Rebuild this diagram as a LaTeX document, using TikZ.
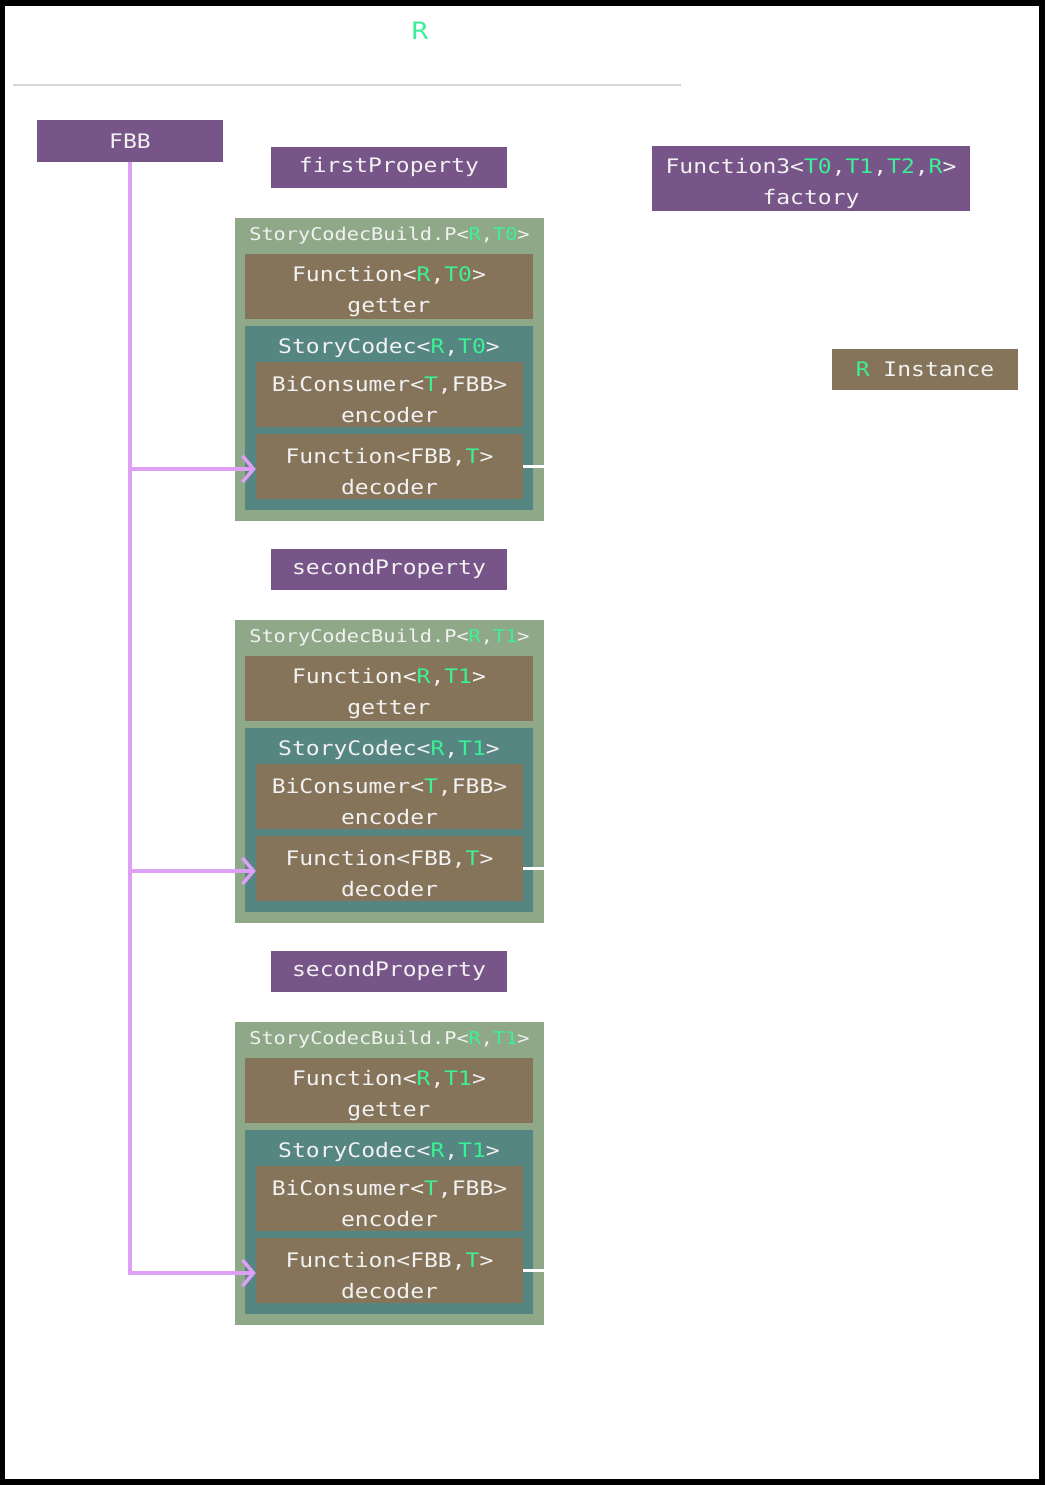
\documentclass[tikz,border=0pt]{standalone}
\usepackage{fontspec}
\usetikzlibrary{arrows.meta}
\newfontfamily\mono{DejaVu Sans Mono}[FakeStretch=1.15]
\definecolor{pur}{RGB}{119,85,136}
\definecolor{brn}{RGB}{134,116,90}
\definecolor{sage}{RGB}{143,169,136}
\definecolor{tealbox}{RGB}{86,134,130}
\definecolor{mint}{RGB}{60,240,150}
\definecolor{pinkline}{RGB}{221,160,245}
\definecolor{txt}{RGB}{242,242,242}
\definecolor{lgray}{RGB}{214,214,214}
\newcommand\grn[1]{\textcolor{mint}{#1}}
\tikzset{
  box/.style={rectangle, inner sep=0pt, text=txt, align=center,
    font=\mono\fontsize{20}{31}\selectfont},
  twoline/.style={text height=56pt},
  purbox/.style={box, fill=pur},
  brnbox/.style={box, fill=brn},
  sagebox/.style={rectangle, inner sep=0pt, fill=sage},
  tealb/.style={rectangle, inner sep=0pt, fill=tealbox},
  grptitle/.style={box, font=\mono\fontsize{17.6}{22}\selectfont},
  feed/.style={draw=pinkline, line width=3.5pt, -{Straight Barb[length=11pt,width=26pt]}},
  stub/.style={draw=white, line width=3pt}
}
\newcommand\propgroup[3]{%
  \begin{scope}[yshift=-#2pt]
  \node[sagebox, minimum width=309pt, minimum height=303pt] (#1) at (389.5,369.5) {};
  \node[grptitle] (#1t) at (389.5,236) {StoryCodecBuild.P<\grn{R},\grn{#3}>};
  \node[brnbox, twoline, minimum width=288pt, minimum height=65pt] (#1get) at (389,286.5) {Function<\grn{R},\grn{#3}>\\getter};
  \node[tealb, minimum width=288pt, minimum height=184pt] (#1codec) at (389,418) {};
  \node[box] (#1ct) at (389,348) {StoryCodec<\grn{R},\grn{#3}>};
  \node[brnbox, twoline, minimum width=267pt, minimum height=65pt] (#1enc) at (389.5,394.5) {BiConsumer<\grn{T},FBB>\\encoder};
  \node[brnbox, twoline, minimum width=267pt, minimum height=65pt] (#1dec) at (389.5,466.5) {Function<FBB,\grn{T}>\\decoder};
  \coordinate (#1in) at ([yshift=-2.5pt]#1dec.west);
  \draw[stub] (#1dec.east) -- (#1dec.east -| #1.east);
  \end{scope}}
\begin{document}
\begin{tikzpicture}[x=1pt,y=-1pt]
\fill[black] (0,0) rectangle (1045,1485);
\fill[white] (5,6) rectangle (1039,1479);
\useasboundingbox (0,0) rectangle (1045,1485);
\node[box, text=mint, font=\mono\fontsize{24}{28}\selectfont] (title) at (420,31) {R};
\draw[lgray, line width=2pt] (13,85) -- (681,85);
\node[purbox, minimum width=186pt, minimum height=41pt] (FBB) at (130,141) {FBB};
\node[purbox, minimum width=236pt, minimum height=41pt] (p1) at (389,167) {firstProperty};
\node[purbox, twoline, minimum width=318pt, minimum height=65pt] (factory) at (811,178.5) {Function3<\grn{T0},\grn{T1},\grn{T2},\grn{R}>\\factory};
\node[brnbox, minimum width=186pt, minimum height=41pt] (inst) at (925,369) {\grn{R} Instance};
\propgroup{ga}{0}{T0}
\node[purbox, minimum width=236pt, minimum height=41pt] (p2) at (389,569) {secondProperty};
\propgroup{gb}{402}{T1}
\node[purbox, minimum width=236pt, minimum height=41pt] (p3) at (389,971) {secondProperty};
\propgroup{gc}{804}{T1}
\draw[feed] (FBB.south) |- (gain);
\draw[feed] (FBB.south) |- (gbin);
\draw[feed] (FBB.south) |- (gcin);
\end{tikzpicture}
\end{document}
